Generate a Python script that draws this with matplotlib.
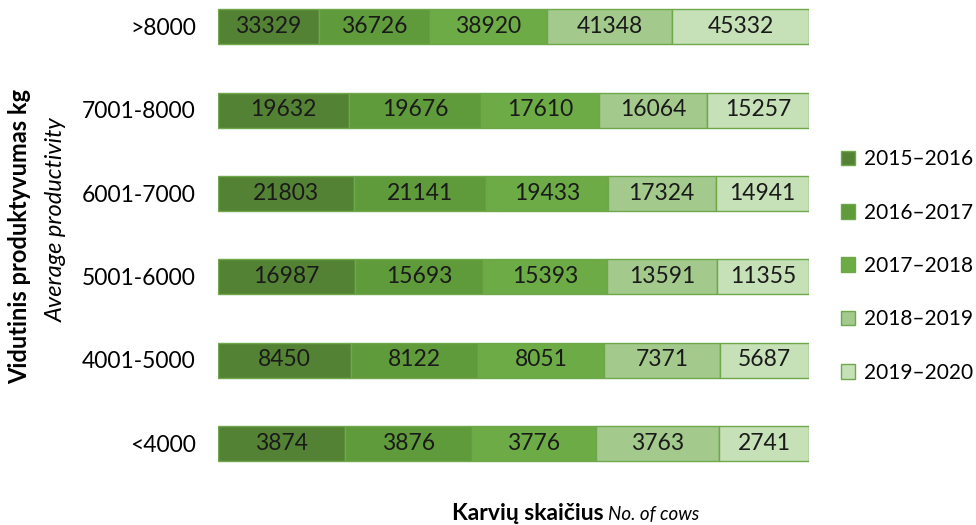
import numpy as np
import matplotlib
matplotlib.use("Agg")
import matplotlib.pyplot as plt

plt.rcParams["font.family"] = ["Lato", "DejaVu Sans"]

categories = [">8000", "7001-8000", "6001-7000", "5001-6000", "4001-5000", "<4000"]
seasons = ["2015\u20132016", "2016\u20132017", "2017\u20132018", "2018\u20132019", "2019\u20132020"]
values = {
    "2015\u20132016": [33329, 19632, 21803, 16987, 8450, 3874],
    "2016\u20132017": [36726, 19676, 21141, 15693, 8122, 3876],
    "2017\u20132018": [38920, 17610, 19433, 15393, 8051, 3776],
    "2018\u20132019": [41348, 16064, 17324, 13591, 7371, 3763],
    "2019\u20132020": [45332, 15257, 14941, 11355, 5687, 2741],
}
colors = ["#548235", "#5f9a3b", "#6cab45", "#a3c98c", "#c6e0b8"]
edge = "#6fa84a"

fig = plt.figure(figsize=(9.76, 5.25), dpi=100)
ax = fig.add_axes([218 / 976, 1 - 465 / 525, (809 - 218) / 976, 460 / 525])

y = np.arange(len(categories))
totals = np.sum([values[s] for s in seasons], axis=0)
left = np.zeros(len(categories))
for s, c in zip(seasons, colors):
    v = np.array(values[s], dtype=float)
    w = v / totals * 100
    ax.barh(y, w, left=left, height=0.42, color=c, edgecolor=edge, linewidth=1.0, label=s)
    for yi, li, wi, vi in zip(y, left, w, v):
        ax.text(li + wi / 2, yi, f"{int(vi)}", ha="center", va="center",
                fontsize=16.5, color="#1a1a1a")
    left += w

ax.set_xlim(0, 100)
ax.set_ylim(5.26, -0.26)
ax.set_yticks(y)
ax.set_yticklabels(categories, fontsize=16.5)
ax.tick_params(axis="y", length=0, pad=16)
ax.set_xticks([])
for sp in ax.spines.values():
    sp.set_visible(False)

fig.text(20 / 976, 1 - 237 / 525, "Vidutinis produktyvumas kg", rotation=90,
         ha="center", va="center", fontsize=17, fontweight="bold")
fig.text(56 / 976, 1 - 220 / 525, "Average productivity", rotation=90,
         ha="center", va="center", fontsize=17, style="italic")

fig.text(604 / 976, 1 - 513 / 525, "Karvi\u0173 skai\u010dius", ha="right", va="center",
         fontsize=16.5, fontweight="bold")
fig.text(608 / 976, 1 - 514 / 525, "No. of cows", ha="left", va="center",
         fontsize=13.5, style="italic")

leg = ax.legend(loc="center left", bbox_to_anchor=(822 / 976, 1 - 266 / 525),
                bbox_transform=fig.transFigure, frameon=False, fontsize=15,
                handlelength=0.7, handleheight=0.7, handletextpad=0.4,
                labelspacing=1.6)

fig.savefig("out.png", dpi=100)
